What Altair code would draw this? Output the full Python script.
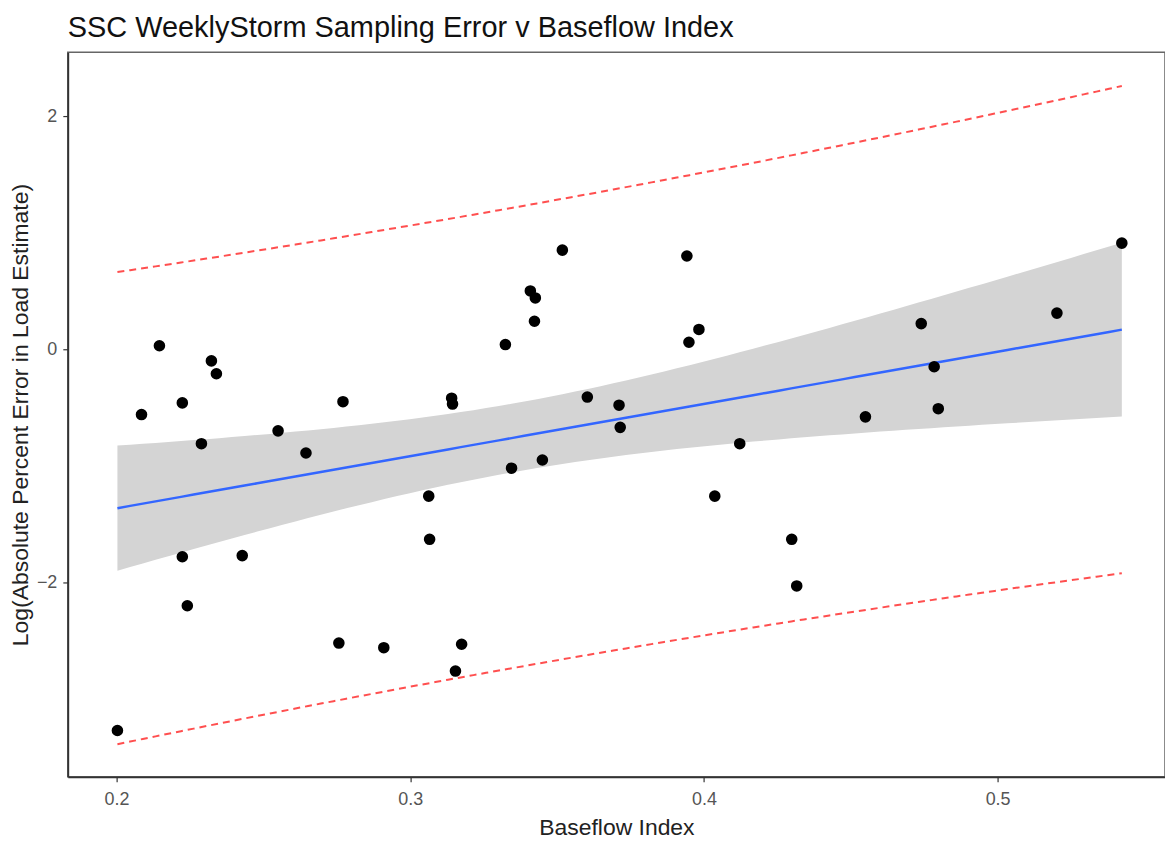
import numpy as np
import pandas as pd
import altair as alt

# Data
bfi = [0.2003, 0.2085, 0.2146, 0.2224, 0.2224, 0.2241, 0.2289, 0.2323, 0.2340, 0.2428,
       0.2550, 0.2645, 0.2757, 0.2771, 0.2910, 0.3063, 0.3066, 0.3141, 0.3144, 0.3154,
       0.3175, 0.3324, 0.3345, 0.3409, 0.3426, 0.3423, 0.3450, 0.3518, 0.3603, 0.3711,
       0.3715, 0.3942, 0.3949, 0.3983, 0.4037, 0.4122, 0.4299, 0.4316, 0.4550, 0.4740,
       0.4784, 0.4798, 0.5202, 0.5423]
log_err = [-3.27, -0.56, 0.03, -0.46, -1.78, -2.20, -0.81, -0.10, -0.21, -1.77,
           -0.70, -0.89, -2.52, -0.45, -2.56, -1.26, -1.63, -0.42, -0.47, -2.76,
           -2.53, 0.04, -1.02, 0.50, 0.44, 0.24, -0.95, 0.85, -0.41, -0.48,
           -0.67, 0.80, 0.06, 0.17, -1.26, -0.81, -1.63, -2.03, -0.58, 0.22,
           -0.15, -0.51, 0.31, 0.91]

x_ticks = [0.2, 0.3, 0.4, 0.5]
y_ticks = [-2, 0, 2]

pts = pd.DataFrame({"bfi": bfi, "err": log_err})

# Linear fit with 95% confidence band and prediction interval (as geom_smooth / predict)
x = np.array(bfi)
y = np.array(log_err)
n = len(x)
b1, b0 = np.polyfit(x, y, 1)
xm = x.mean()
sxx = ((x - xm) ** 2).sum()
s = np.sqrt(((y - (b0 + b1 * x)) ** 2).sum() / (n - 2))
t = 2.018
grid = np.linspace(x.min(), x.max(), 80)
fit = b0 + b1 * grid
se_fit = s * np.sqrt(1 / n + (grid - xm) ** 2 / sxx)
se_pred = s * np.sqrt(1 + 1 / n + (grid - xm) ** 2 / sxx)
fitdf = pd.DataFrame({"bfi": grid, "fit": fit,
                      "lo": fit - t * se_fit, "hi": fit + t * se_fit})
pi = pd.concat([
    pd.DataFrame({"bfi": grid, "v": fit - t * se_pred, "bound": "lower"}),
    pd.DataFrame({"bfi": grid, "v": fit + t * se_pred, "bound": "upper"}),
])

xdom = [0.1834, 0.557]
ydom = [-3.667, 2.547]

xscale = alt.Scale(domain=xdom, nice=False, zero=False)
yscale = alt.Scale(domain=ydom, nice=False, zero=False)

xaxis = alt.Axis(values=x_ticks, format=".1f", title="Baseflow Index")
yaxis = alt.Axis(values=y_ticks, format="d",
                 title="Log(Absolute Percent Error in Load Estimate)")

band = alt.Chart(fitdf).mark_area(color="#D4D4D4", opacity=1).encode(
    x=alt.X("bfi:Q", scale=xscale, axis=xaxis),
    y=alt.Y("lo:Q", scale=yscale, axis=yaxis),
    y2="hi:Q",
)
line = alt.Chart(fitdf).mark_line(color="#3366FF", strokeWidth=2.5).encode(
    x=alt.X("bfi:Q", scale=xscale),
    y=alt.Y("fit:Q", scale=yscale),
)
pil = alt.Chart(pi).mark_line(color="#FF3030", strokeWidth=2, strokeDash=[7, 5],
                              opacity=0.85).encode(
    x=alt.X("bfi:Q", scale=xscale),
    y=alt.Y("v:Q", scale=yscale),
    detail="bound:N",
)
points = alt.Chart(pts).mark_circle(color="black", size=135, opacity=1).encode(
    x=alt.X("bfi:Q", scale=xscale),
    y=alt.Y("err:Q", scale=yscale),
)

chart = alt.layer(band, pil, line, points).properties(
    width=1101, height=727,
    title=alt.TitleParams("SSC WeeklyStorm Sampling Error v Baseflow Index",
                          anchor="start", frame="group", font="Liberation Sans",
                          fontSize=29, fontWeight="normal", color="#111111",
                          offset=9),
    padding={"left": 60, "top": 43, "right": 0, "bottom": 64},
    autosize=alt.AutoSizeParams(type="none"),
).configure_view(
    stroke="#666666", strokeWidth=1.5, fill="white"
).configure_axis(
    grid=False, domain=True, domainColor="#333333", domainWidth=1.8,
    tickColor="#333333", tickSize=5, tickWidth=1.2,
    labelFont="Liberation Sans", labelFontSize=18, labelColor="#555555",
    titleFont="Liberation Sans", titleFontWeight="normal",
    titleColor="#222222",
).configure_axisX(
    titlePadding=8, labelPadding=9, titleFontSize=23
).configure_axisY(
    titlePadding=4, labelPadding=6, titleFontSize=23
)

chart.save("out.html", embed_options={"renderer": "svg", "actions": False})
